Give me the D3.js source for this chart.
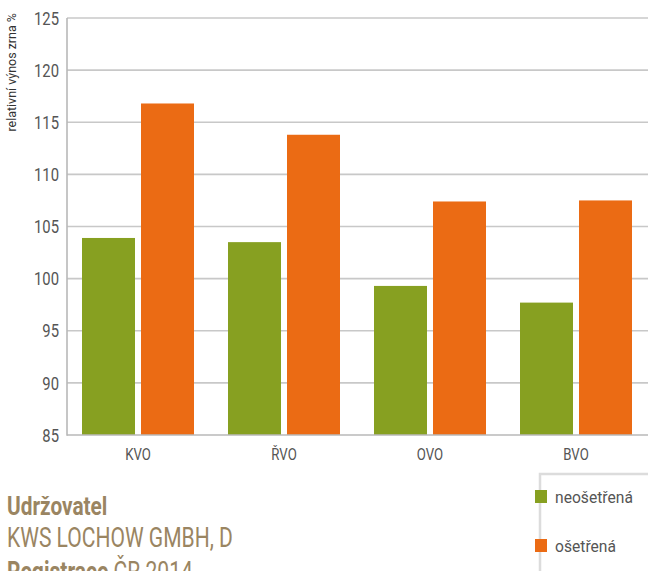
<!DOCTYPE html>
<html>
<head>
<meta charset="utf-8">
<script src="https://cdn.jsdelivr.net/npm/d3@7"></script>
<style>
  body { margin: 0; background: #fff; }
  svg { display: block; font-family: Roboto, "Liberation Sans", sans-serif; }
</style>
</head>
<body>
<svg id="chart" width="648" height="571"></svg>
<script>
const categories = ["KVO", "ŘVO", "OVO", "BVO"]
const series = ["neošetřená", "ošetřená"]
const untreated = [103.9, 103.5, 99.3, 97.7]
const treated = [116.8, 113.8, 107.4, 107.5]
const yTicks = [85, 90, 95, 100, 105, 110, 115, 120, 125]
const colours = ["#87a021", "#eb6b14"]

const svg = d3.select("#chart")
const plotLeft = 67, plotRight = 648, plotTop = 18, plotBottom = 435
const narrow = 0.8 // the original font is a condensed face

const y = d3.scaleLinear().domain([85, 125]).range([plotBottom, plotTop])
const x0 = d3.scaleBand().domain(categories).range([65, 649])
const x1 = d3.scaleBand().domain(series).range([0, 112]).paddingInner(6/59)
const groupOffset = (x0.bandwidth() - 112) / 2

// grid
svg.append("g").selectAll("line")
    .data(yTicks.filter(d => d > 85))
    .join("line")
    .attr("x1", plotLeft).attr("x2", plotRight)
    .attr("y1", d => y(d)).attr("y2", d => y(d))
    .attr("stroke", "#c8c8c8")
    .attr("stroke-width", 1.6)

// bars
const rows = categories.map((c, i) => ({cat: c, vals: [untreated[i], treated[i]]}))
svg.append("g").selectAll("g")
    .data(rows)
    .join("g")
    .attr("transform", d => `translate(${x0(d.cat) + groupOffset},0)`)
    .selectAll("rect")
    .data(d => d.vals.map((v, j) => ({s: series[j], v: v, c: colours[j]})))
    .join("rect")
    .attr("x", d => x1(d.s))
    .attr("width", x1.bandwidth())
    .attr("y", d => y(d.v))
    .attr("height", d => y(85) - y(d.v))
    .attr("fill", d => d.c)

// axes lines
svg.append("line")
    .attr("x1", plotLeft).attr("x2", plotRight)
    .attr("y1", y(85)).attr("y2", y(85))
    .attr("stroke", "#b8b8b8").attr("stroke-width", 1.6)
svg.append("line")
    .attr("x1", plotLeft).attr("x2", plotLeft)
    .attr("y1", plotTop).attr("y2", plotBottom + 0.8)
    .attr("stroke", "#b8b8b8").attr("stroke-width", 1.6)

// y tick labels
svg.append("g").selectAll("text")
    .data(yTicks)
    .join("text")
    .attr("transform", d => `translate(59,${y(d)}) scale(${narrow},1)`)
    .attr("dy", "0.36em")
    .attr("text-anchor", "end")
    .attr("font-size", 18.5)
    .attr("fill", "#555")
    .text(d => d)

// x labels
svg.append("g").selectAll("text")
    .data(categories)
    .join("text")
    .attr("transform", d => `translate(${x0(d) + x0.bandwidth() / 2},460) scale(${narrow},1)`)
    .attr("text-anchor", "middle")
    .attr("font-size", 16.5)
    .attr("fill", "#555")
    .text(d => d)

// y title
svg.append("text")
    .attr("transform", "translate(16,13) rotate(-90) scale(0.96,1)")
    .attr("text-anchor", "end")
    .attr("font-size", 13)
    .attr("fill", "#333")
    .text("relativní výnos zrna %")

// legend
svg.append("rect")
    .attr("x", 540).attr("y", 474)
    .attr("width", 130).attr("height", 130)
    .attr("fill", "#fff")
    .attr("stroke", "#dcdcdc").attr("stroke-width", 2.5)
const legend = svg.append("g").selectAll("g")
    .data(series)
    .join("g")
    .attr("transform", (d, i) => `translate(535,${490 + i * 49})`)
legend.append("rect")
    .attr("width", 12).attr("height", 13)
    .attr("fill", (d, i) => colours[i])
legend.append("text")
    .attr("transform", "translate(20,13) scale(0.92,1)")
    .attr("font-size", 17)
    .attr("fill", "#555")
    .text(d => d)

// footer text
const tan = "#9a8562"
svg.append("text")
    .attr("transform", `translate(7,515) scale(${narrow},1)`)
    .attr("font-size", 26).attr("font-weight", "bold")
    .attr("fill", tan)
    .text("Udržovatel")
svg.append("text")
    .attr("transform", "translate(7,547) scale(0.78,1)")
    .attr("font-size", 27)
    .attr("fill", tan)
    .text("KWS LOCHOW GMBH, D")
const reg = svg.append("text")
    .attr("transform", "translate(7,581) scale(0.78,1)")
    .attr("font-size", 27)
    .attr("fill", tan)
reg.append("tspan").attr("font-weight", "bold").text("Registrace")
reg.append("tspan").text(" ČR 2014")
</script>
</body>
</html>
